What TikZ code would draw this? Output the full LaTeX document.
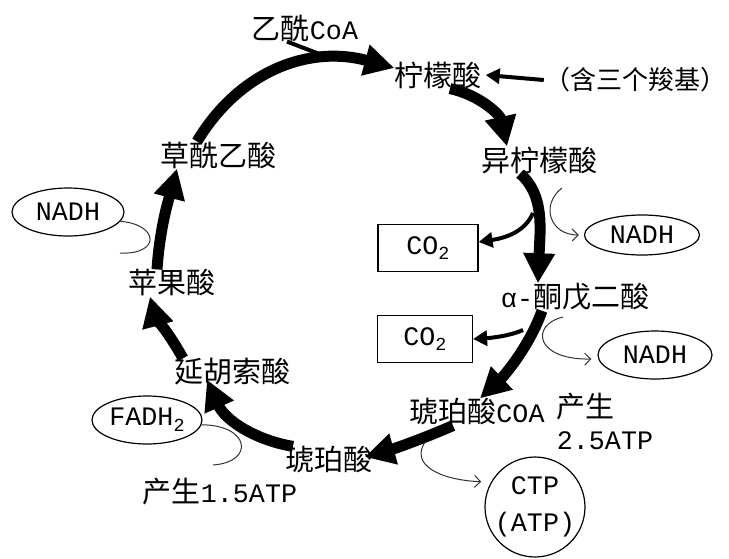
\documentclass[tikz,border=0pt]{standalone}
\usepackage{fontspec}
\setmainfont[Scale=0.92]{Liberation Mono}
\newfontfamily\cjk{Noto Sans CJK SC}
\usetikzlibrary{shapes.geometric,arrows.meta}
\newcommand{\lowidx}[1]{\raisebox{-0.4ex}{\fontsize{20}{20}\selectfont #1}}

\begin{document}
\begin{tikzpicture}[x=1pt,y=-1pt,font=\fontsize{29}{32}\selectfont,
  lbl/.style={inner sep=0pt},
  cyc/.style={line width=11pt,-{Triangle[length=30pt,width=30pt]}},
  side/.style={line width=4pt,-{Triangle[length=14pt,width=15pt]}},
  feed/.style={line width=4pt},
  gain/.style={line width=1pt,draw=black!80,-{Straight Barb[length=6pt,width=12pt]}},
  hook/.style={line width=1pt,draw=black!80},
  oval/.style={ellipse,draw,line width=1.2pt,inner sep=0pt},
  cbox/.style={rectangle,draw,line width=1.2pt,inner sep=0pt}]
\useasboundingbox (0,0) rectangle (729,558);
% intermediates of the cycle
\node[lbl] (acoa) at (305,28) {{\cjk 乙酰}CoA};
\node[lbl] (cit) at (438,75) {\cjk 柠檬酸};
\node[lbl,font=\fontsize{26}{30}\selectfont] (note) at (635,80) {\cjk （含三个羧基）};
\node[lbl] (icit) at (539,160) {\cjk 异柠檬酸};
\node[lbl] (akg) at (575,297) {α-{\cjk 酮戊二酸}};
\node[lbl] (succoa) at (477,412) {{\cjk 琥珀酸}COA};
\node[lbl] (succ) at (329,460) {\cjk 琥珀酸};
\node[lbl] (fum) at (232,372) {\cjk 延胡索酸};
\node[lbl] (mal) at (172,283) {\cjk 苹果酸};
\node[lbl] (oaa) at (218,155) {\cjk 草酰乙酸};
% products
\node[cbox,minimum width=100pt,minimum height=47pt] (co2a) at (428,248) {CO\lowidx{2}};
\node[oval,minimum width=115pt,minimum height=40pt] (nadha) at (642,235) {NADH};
\node[cbox,minimum width=95pt,minimum height=47pt] (co2b) at (425,339) {CO\lowidx{2}};
\node[oval,minimum width=114pt,minimum height=48pt] (nadhb) at (655,355) {NADH};
\node[lbl,align=left] (atpb) at (605,421) {{\cjk 产生}\\2.5ATP};
\node[circle,draw,line width=1.2pt,minimum size=96pt,inner sep=0pt,align=center] (ctp) at (535,507) {CTP\\[5pt](ATP)};
\node[lbl] (atpa) at (220,492) {{\cjk 产生}1.5ATP};
\node[oval,minimum width=110pt,minimum height=48pt] (fadh) at (147,420) {FADH\lowidx{2}};
\node[oval,minimum width=112pt,minimum height=48pt] (nadhc) at (68,212) {NADH};
% main cycle
\draw[cyc] ([xshift=-21pt]oaa.north) .. controls (240,70) and (310,45) .. ([yshift=7pt]cit.west);
\draw[cyc] ([xshift=12pt]cit.south) .. controls (480,95) and (500,115) .. ([xshift=-32pt]icit.north);
\draw[cyc] ([xshift=-19pt]icit.south) .. controls (545,195) and (540,230) .. ([xshift=-37pt]akg.north);
\draw[cyc] ([xshift=-33pt]akg.south) .. controls (530,345) and (505,375) .. ([xshift=3pt]succoa.north);
\draw[cyc] ([xshift=-24pt]succoa.south) .. controls (420,440) and (390,450) .. ([xshift=-8pt,yshift=3pt]succ.east);
\draw[cyc] ([xshift=-36pt]succ.north) .. controls (255,440) and (225,420) .. ([xshift=-25pt,yshift=6pt]fum.south);
\draw[cyc] ([xshift=-49pt]fum.north) .. controls (170,335) and (155,315) .. ([xshift=-22pt]mal.south);
\draw[cyc] ([xshift=-15pt]mal.north) .. controls (160,225) and (170,195) .. ([xshift=-41pt]oaa.south);
% side branches
\coordinate (join) at (322,55);
\draw[feed] ([xshift=-18pt]acoa.south) -- (join);
\draw[side] (note.west) -- ([xshift=4pt]cit.east);
\coordinate (br1) at (533,213);
\coordinate (br2) at (562,188);
\coordinate (br3) at (523,330);
\coordinate (br4) at (563,317);
\coordinate (br5) at (425,442);
\coordinate (fend) at (213,465);
\coordinate (nend) at (120,253);
\draw[side] (br1) .. controls (525,232) and (505,238) .. ([yshift=6pt]co2a.east);
\draw[gain] (br2) .. controls (540,205) and (550,235) .. ([xshift=-5pt]nadha.west);
\draw[side] (br3) .. controls (510,336) and (490,338) .. (co2b.east);
\draw[gain] (br4) .. controls (530,325) and (535,360) .. ([xshift=-6pt,yshift=-4pt]nadhb.west);
\draw[gain] (br5) .. controls (410,465) and (440,480) .. ([xshift=-10pt]ctp.150);
\draw[hook] (fadh.-5) .. controls (250,425) and (255,462) .. (fend);
\draw[hook] (nadhc.-10) .. controls (160,225) and (160,255) .. (nend);
\end{tikzpicture}
\end{document}
